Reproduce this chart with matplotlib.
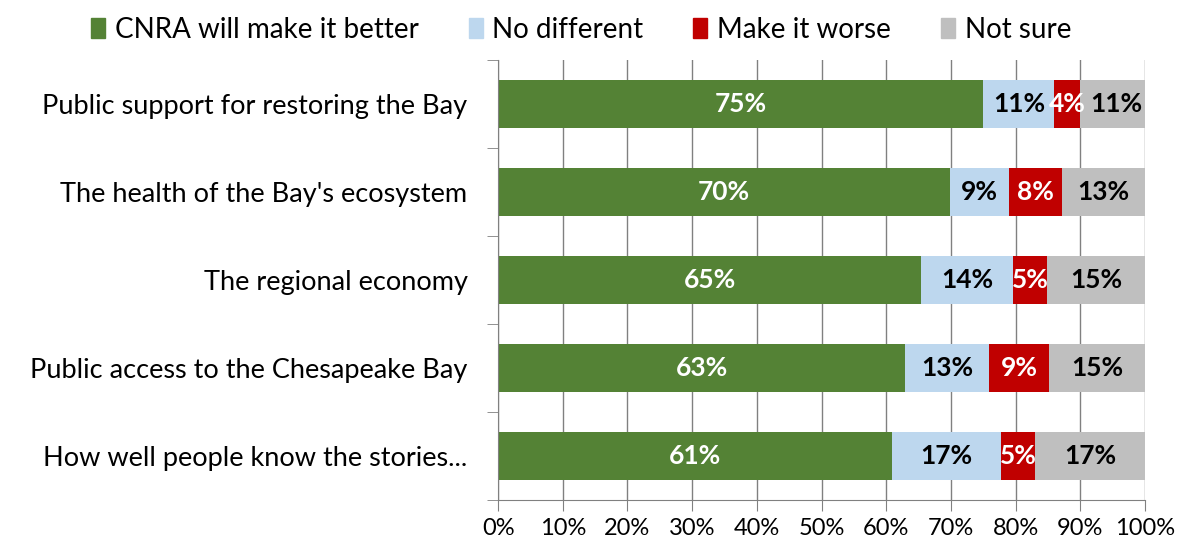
import matplotlib.pyplot as plt
from matplotlib.patches import Patch

plt.rcParams['font.family'] = ['Lato', 'DejaVu Sans']

categories = [
    "Public support for restoring the Bay",
    "The health of the Bay's ecosystem",
    "The regional economy",
    "Public access to the Chesapeake Bay",
    "How well people know the stories...",
]
series = ["CNRA will make it better", "No different", "Make it worse", "Not sure"]
better = [75.0, 69.9, 65.4, 62.9, 60.9]
no_diff = [11.0, 9.1, 14.2, 13.0, 16.8]
worse = [4.0, 8.2, 5.3, 9.3, 5.3]
not_sure = [11.0, 12.8, 15.1, 14.8, 17.0]

colors = ["#548235", "#BDD7EE", "#C00000", "#BFBFBF"]
text_colors = ["white", "black", "white", "black"]

fig = plt.figure(figsize=(11.86, 5.48), dpi=100)
ax = fig.add_axes([0.42, 0.0876, 0.9654 - 0.42, 0.8905 - 0.0876])

ypos = list(range(len(categories)))
left = [0.0] * len(categories)
for vals, col, tcol in zip([better, no_diff, worse, not_sure], colors, text_colors):
    ax.barh(ypos, vals, left=left, height=0.55, color=col, zorder=2)
    for y, l, v in zip(ypos, left, vals):
        ax.text(l + v / 2, y, f"{v:.0f}%", ha="center", va="center",
                color=tcol, fontsize=19, fontweight="bold", zorder=3)
    left = [a + b for a, b in zip(left, vals)]

ax.set_xlim(0, 100)
ax.set_ylim(len(categories) - 0.5, -0.5)
ax.set_xticks(range(0, 101, 10))
ax.set_xticklabels([f"{t}%" for t in range(0, 101, 10)], fontsize=17)
ax.set_yticks(ypos)
ax.set_yticklabels(categories, fontsize=19.5)
ax.set_yticks([i + 0.5 for i in range(-1, len(categories))], minor=True)
ax.tick_params(axis="y", which="major", length=0, pad=22)
ax.tick_params(axis="y", which="minor", length=8, color="#808080")
ax.tick_params(axis="x", length=8, color="#808080", pad=5)
ax.grid(axis="x", color="#808080", linewidth=1, zorder=0)
for s in ["top", "right"]:
    ax.spines[s].set_visible(False)
ax.spines["left"].set_color("#808080")
ax.spines["bottom"].set_color("#808080")

handles = [Patch(facecolor=c, edgecolor=c) for c in colors]
fig.legend(handles, series, loc="upper center", bbox_to_anchor=(0.49, 1.015),
           ncol=4, frameon=False, fontsize=20, handlelength=0.5, handleheight=0.7,
           handletextpad=0.35, columnspacing=1.8)

fig.savefig("out.png", dpi=100)
